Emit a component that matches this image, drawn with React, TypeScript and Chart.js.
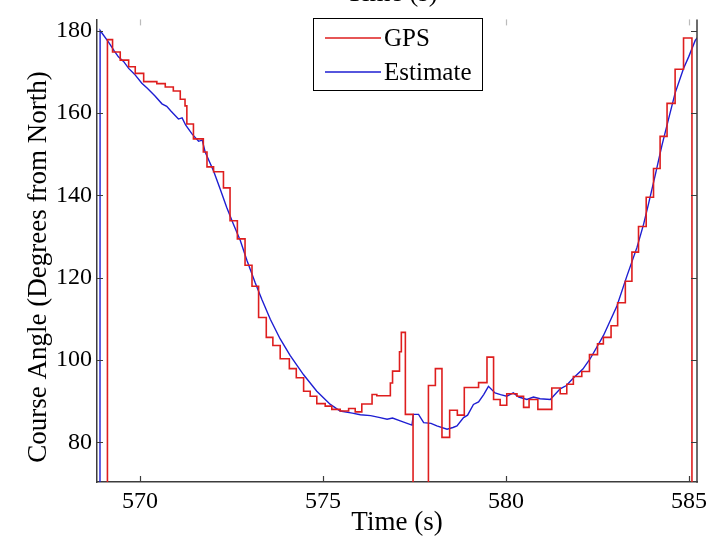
import React, { useEffect, useRef } from 'react';
import { Chart, registerables } from 'chart.js';

Chart.register(...registerables);

// GPS course (step data): time (s) and course angle (deg)
const gpsTime = [
  568.7, 569.11, 569.25, 569.46, 569.69, 569.87, 570.1, 570.46, 570.69, 570.91,
  571.1, 571.23, 571.28, 571.46, 571.73, 571.83, 572.01, 572.28, 572.46, 572.66,
  572.87, 573.06, 573.24, 573.45, 573.63, 573.83, 574.08, 574.27, 574.47, 574.65,
  574.83, 575.06, 575.24, 575.47, 575.7, 575.88, 576.06, 576.34, 576.47, 576.84,
  576.9, 577.09, 577.14, 577.25, 577.46, 577.88, 578.07, 578.25, 578.46, 578.67,
  578.86, 579.25, 579.48, 579.66, 579.84, 580.02, 580.3, 580.48, 580.63, 580.87,
  581.25, 581.48, 581.66, 581.84, 582.07, 582.28, 582.5, 582.66, 582.87, 583.05,
  583.26, 583.44, 583.62, 583.83, 584.03, 584.21, 584.4, 584.62, 584.85, 585.08,
  585.4,
];
const gpsCourse = [
  -178, 177.8, 174.8, 172.8, 171.2, 169.6, 167.6, 167.1, 166.3, 165.3,
  163.3, 161.7, 157.3, 153.7, 150.5, 146.9, 145.7, 141.8, 133.8, 129.4,
  123.0, 117.9, 110.3, 105.5, 103.5, 100.3, 97.9, 95.7, 92.4, 91.2,
  89.4, 88.8, 88.0, 87.6, 88.2, 87.4, 89.3, 91.6, 91.3, 94.4,
  97.3, 102.0, 106.7, 86.8, -170, 93.8, 97.9, 81.2, 87.8, 86.6,
  93.3, 94.5, 100.7, 90.4, 89.0, 91.8, 91.2, 88.5, 90.4, 88.0,
  93.2, 91.8, 94.1, 96.0, 97.2, 101.3, 103.9, 105.5, 108.3, 113.9,
  119.1, 126.2, 132.4, 139.5, 146.5, 154.3, 162.3, 170.6, 178.2, -178,
  -178,
];

// Estimated course: time (s) and course angle (deg)
const estTime = [
  568.9, 568.91, 569.14, 569.3, 569.41, 569.55, 569.69, 569.85, 570.05, 570.2,
  570.41, 570.6, 570.73, 570.85, 571.05, 571.15, 571.25, 571.42, 571.6, 571.7,
  571.78, 572.01, 572.19, 572.37, 572.55, 572.74, 572.92, 573.15, 573.33, 573.56,
  573.83, 574.1, 574.47, 574.83, 575.2, 575.47, 575.8, 576.02, 576.3, 576.56,
  576.75, 576.9, 577.11, 577.43, 577.47, 577.61, 577.75, 577.95, 578.11, 578.39,
  578.55, 578.66, 578.84, 578.95, 579.11, 579.25, 579.39, 579.52, 579.7, 579.85,
  580.02, 580.2, 580.35, 580.57, 580.75, 580.93, 581.21, 581.48, 581.65, 581.84,
  582.1, 582.3, 582.66, 583.03, 583.3, 583.58, 583.76, 583.89, 584.08, 584.26,
  584.44, 584.62, 584.85, 584.99, 585.17, 585.25,
];
const estCourse = [
  -178, 180.0, 177.2, 175.0, 173.6, 172.5, 170.8, 169.4, 167.2, 166.0,
  164.1, 162.2, 161.6, 160.4, 158.5, 158.8, 157.0, 154.9, 153.1, 153.4,
  150.5, 145.9, 141.5, 137.0, 133.0, 129.0, 124.2, 118.7, 114.7, 109.9,
  105.1, 101.1, 96.4, 92.4, 89.2, 87.6, 87.1, 86.7, 86.5, 86.0,
  85.6, 85.9, 85.2, 84.2, 86.8, 86.8, 84.8, 84.6, 84.0, 83.2,
  83.6, 84.0, 86.0, 86.6, 89.2, 89.8, 91.6, 93.6, 92.0, 91.6,
  91.2, 92.0, 91.0, 90.4, 91.0, 90.6, 90.4, 93.0, 93.8, 95.6,
  97.8, 100.3, 105.9, 113.1, 120.3, 127.4, 133.0, 137.8, 145.0, 152.1,
  158.5, 164.8, 170.8, 173.6, 177.6, 178.5,
];

const xTickValues = [570, 575, 580, 585];
const yTickValues = [80, 100, 120, 140, 160, 180];
const seriesNames = ['GPS', 'Estimate'];
const xLabel = 'Time (s)';
const yLabel = 'Course Angle (Degrees from North)';
const xRange = [568.825, 585.218];
const yRange = [70.37, 182.7];

const FONT = '"Liberation Serif", "Times New Roman", serif';
const RED = 'rgb(222,30,30)';
const BLUE = 'rgb(30,30,210)';
const AXIS = '#3c3c3c';

const matlabPlugin = {
  id: 'matlabAxes',
  afterDraw(chart: any) {
    const { ctx, chartArea } = chart;
    const { left, right, top, bottom } = chartArea;
    const xs = chart.scales.x;
    const ys = chart.scales.y;
    ctx.save();
    // right axis line
    ctx.strokeStyle = AXIS;
    ctx.lineWidth = 1.5;
    ctx.beginPath();
    ctx.moveTo(right, top);
    ctx.lineTo(right, bottom + 0.75);
    ctx.stroke();
    // inward ticks
    ctx.lineWidth = 1.2;
    const tl = 6;
    xTickValues.forEach((v) => {
      const px = Math.round(xs.getPixelForValue(v)) + 0.5;
      ctx.beginPath();
      ctx.moveTo(px, bottom);
      ctx.lineTo(px, bottom - tl);
      ctx.stroke();
    });
    ctx.strokeStyle = 'rgba(60,60,60,0.35)';
    xTickValues.forEach((v) => {
      const px = Math.round(xs.getPixelForValue(v)) + 0.5;
      ctx.beginPath();
      ctx.moveTo(px, top);
      ctx.lineTo(px, top + tl);
      ctx.stroke();
    });
    ctx.strokeStyle = AXIS;
    yTickValues.forEach((v) => {
      const py = Math.round(ys.getPixelForValue(v)) + 0.5;
      ctx.beginPath();
      ctx.moveTo(left, py);
      ctx.lineTo(left + tl, py);
      ctx.moveTo(right, py);
      ctx.lineTo(right - tl, py);
      ctx.stroke();
    });
    // legend
    const lx = 313, ly = 18, lw = 169, lh = 72;
    ctx.fillStyle = '#fff';
    ctx.fillRect(lx, ly, lw, lh);
    ctx.strokeStyle = '#000';
    ctx.lineWidth = 1;
    ctx.strokeRect(lx + 0.5, ly + 0.5, lw, lh);
    const rows = [38, 72];
    chart.data.datasets.forEach((ds: any, i: number) => {
      ctx.strokeStyle = ds.borderColor;
      ctx.lineWidth = 1.5;
      ctx.beginPath();
      ctx.moveTo(325, rows[i]);
      ctx.lineTo(381, rows[i]);
      ctx.stroke();
      ctx.fillStyle = '#000';
      ctx.font = `25px ${FONT}`;
      ctx.textBaseline = 'middle';
      ctx.textAlign = 'left';
      ctx.fillText(ds.label, 384, rows[i] + 1);
    });
    // y-axis title
    ctx.save();
    ctx.translate(39, 267);
    ctx.rotate(-Math.PI / 2);
    ctx.fillStyle = '#000';
    ctx.font = `27px ${FONT}`;
    ctx.textAlign = 'center';
    ctx.textBaseline = 'middle';
    ctx.fillText(yLabel, 0, 0);
    ctx.restore();
    // cut-off label of the figure above
    ctx.fillStyle = '#000';
    ctx.font = `27px ${FONT}`;
    ctx.textAlign = 'center';
    ctx.textBaseline = 'alphabetic';
    ctx.fillText(xLabel, 392, 1);
    ctx.restore();
  },
};

export default function App() {
  const canvasRef = useRef<HTMLCanvasElement | null>(null);

  useEffect(() => {
    if (!canvasRef.current) return;
    const chart = new Chart(canvasRef.current, {
      type: 'line',
      data: {
        datasets: [
          {
            label: seriesNames[0],
            data: gpsTime.map((t, i) => ({ x: t, y: gpsCourse[i] })),
            borderColor: RED,
            borderWidth: 1.6,
            stepped: true,
            pointRadius: 0,
            fill: false,
            clip: 0,
          },
          {
            label: seriesNames[1],
            data: estTime.map((t, i) => ({ x: t, y: estCourse[i] })),
            borderColor: BLUE,
            borderWidth: 1.4,
            pointRadius: 0,
            tension: 0,
            fill: false,
            clip: 0,
          },
        ],
      },
      options: {
        animation: false,
        responsive: false,
        maintainAspectRatio: false,
        parsing: false as any,
        layout: { padding: { top: 12, right: 27, bottom: 0, left: 0 } },
        plugins: {
          legend: { display: false },
          tooltip: { enabled: false },
          title: { display: false },
        },
        scales: {
          x: {
            type: 'linear',
            min: xRange[0],
            max: xRange[1],
            grid: { display: false, drawTicks: false },
            border: { display: true, color: AXIS, width: 1.5 },
            ticks: {
              color: '#000',
              font: { family: FONT, size: 24 },
              padding: 5,
              autoSkip: false,
              maxRotation: 0,
              callback: (v: any) => String(v),
            },
            title: {
              display: true,
              text: xLabel,
              color: '#000',
              font: { family: FONT, size: 27 },
              padding: { top: 0, bottom: 3 },
            },
            afterBuildTicks: (axis: any) => {
              axis.ticks = xTickValues.map((value) => ({ value }));
            },
            afterFit: (axis: any) => {
              axis.height = 60;
            },
          },
          y: {
            type: 'linear',
            min: yRange[0],
            max: yRange[1],
            grid: { display: false, drawTicks: false },
            border: { display: true, color: AXIS, width: 1.5 },
            ticks: {
              color: '#000',
              font: { family: FONT, size: 24 },
              padding: 5,
              autoSkip: false,
              callback: (v: any) => String(v),
            },
            title: { display: false, text: yLabel },
            afterBuildTicks: (axis: any) => {
              axis.ticks = yTickValues.map((value) => ({ value }));
            },
            afterFit: (axis: any) => {
              axis.width = 97;
            },
          },
        },
      },
      plugins: [matlabPlugin],
    });
    return () => chart.destroy();
  }, []);

  return (
    <div style={{ position: 'fixed', left: 0, top: 0, width: 724, height: 542, background: '#fff' }}>
      <canvas ref={canvasRef} width={724} height={542} style={{ display: 'block', width: 724, height: 542 }} />
    </div>
  );
}
